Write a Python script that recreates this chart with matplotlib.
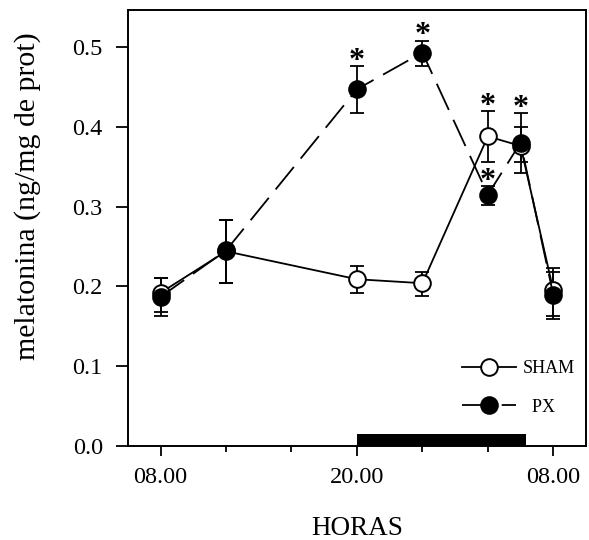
import matplotlib
matplotlib.use("Agg")
import matplotlib.pyplot as plt
from matplotlib.ticker import FixedLocator

plt.rcParams["font.family"] = ["Liberation Serif", "DejaVu Serif"]

# hours (8 = 08.00, 20 = 20.00, 32 = 08.00 next day)
hours = [8, 12, 20, 24, 28, 30, 32]

sham = [0.192, 0.244, 0.209, 0.204, 0.388, 0.376, 0.195]
sham_lo = [0.168, 0.204, 0.192, 0.188, 0.356, 0.356, 0.159]
sham_hi = [0.210, 0.283, 0.226, 0.218, 0.420, 0.400, 0.223]

px = [0.187, 0.245, 0.447, 0.493, 0.315, 0.380, 0.189]
px_lo = [0.163, 0.204, 0.417, 0.476, 0.302, 0.342, 0.163]
px_hi = [0.210, 0.283, 0.476, 0.508, 0.326, 0.417, 0.218]

# significance marks: (series, index)
stars = [("px", 2), ("px", 3), ("sham", 4), ("px", 4), ("px", 5)]

dark_start, dark_end = 20, 30.3

fig = plt.figure(figsize=(5.89, 5.40), dpi=100)
ax = fig.add_axes([0.217, 0.174, 0.778, 0.807])

err_kw = dict(ecolor="black", elinewidth=1.3, capsize=5, capthick=1.3)

sham_err = [[s - l for s, l in zip(sham, sham_lo)], [h - s for s, h in zip(sham, sham_hi)]]
px_err = [[s - l for s, l in zip(px, px_lo)], [h - s for s, h in zip(px, px_hi)]]

ax.errorbar(hours, sham, yerr=sham_err, fmt="none", zorder=2, **err_kw)
ax.errorbar(hours, px, yerr=px_err, fmt="none", zorder=2, **err_kw)

ax.plot(hours, sham, "-", color="black", lw=1.3, marker="o", ms=12,
        mfc="white", mec="black", mew=1.4, label="SHAM", zorder=3)
ax.plot(hours, px, color="black", lw=1.3, dashes=(16, 6), marker="o", ms=12,
        mfc="black", mec="black", mew=1.4, label="  PX", zorder=4)

for name, i in stars:
    top = px_hi[i] if name == "px" else sham_hi[i]
    ax.annotate("*", (hours[i], top), xytext=(0, -2), textcoords="offset points",
                ha="center", va="baseline", fontsize=23, fontweight="bold")

ax.fill_between([dark_start, dark_end], 0, 0.015, color="black", lw=0, zorder=1)

ax.set_xlim(6, 34)
ax.set_ylim(0, 0.546)
ax.xaxis.set_major_locator(FixedLocator([8, 20, 32]))
ax.set_xticklabels(["08.00", "20.00", "08.00"])
ax.xaxis.set_minor_locator(FixedLocator([12, 16, 24, 28]))
ax.set_yticks([0.0, 0.1, 0.2, 0.3, 0.4, 0.5])
ax.set_yticklabels(["0.0", "0.1", "0.2", "0.3", "0.4", "0.5"])

ax.tick_params(axis="both", which="major", labelsize=17.5, width=1.3, direction="out")
ax.tick_params(axis="x", which="major", length=7, pad=8)
ax.tick_params(axis="x", which="minor", length=4, width=1.3)
ax.tick_params(axis="y", which="major", length=9, pad=9)
for sp in ax.spines.values():
    sp.set_linewidth(1.4)

ax.set_xlabel("HORAS", fontsize=19.5, labelpad=20)
ax.set_ylabel("melatonina (ng/mg de prot)", fontsize=21.5)
ax.yaxis.set_label_coords(-0.19, 0.573)

leg = ax.legend(loc="lower right", bbox_to_anchor=(1.0, 0.045), frameon=False,
                fontsize=13, handlelength=3.0, labelspacing=1.2, handletextpad=0.4,
                borderaxespad=0.2)

fig.savefig("out.png", dpi=100)
